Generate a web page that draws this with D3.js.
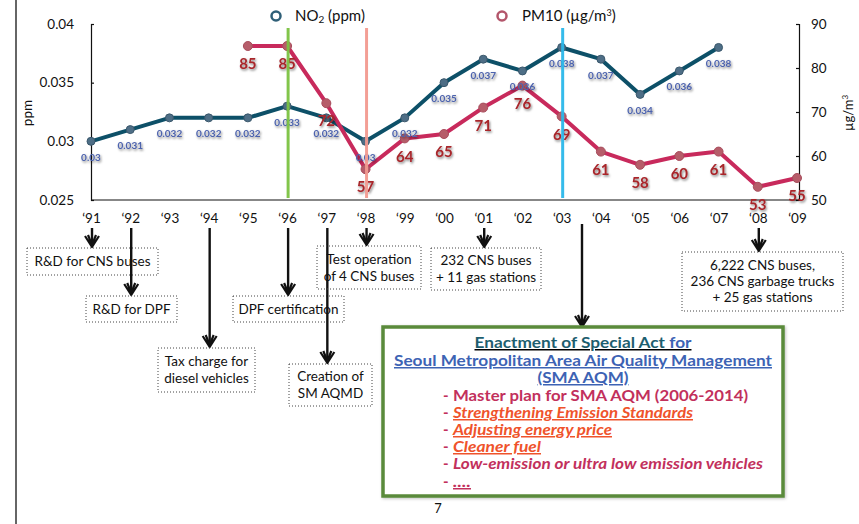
<!DOCTYPE html>
<html>
<head>
<meta charset="utf-8">
<script src="https://cdn.jsdelivr.net/npm/d3@7"></script>
<style>
  html, body { margin: 0; padding: 0; background: #fff; }
  svg { display: block; font-family: Lato, "Open Sans", sans-serif; }
</style>
</head>
<body>
<svg id="chart" width="859" height="524"></svg>
<script>
// Years on the shared x axis
const years = ["‘91","‘92","‘93","‘94","‘95","‘96","‘97","‘98","‘99","‘00","‘01","‘02","‘03","‘04","‘05","‘06","‘07","‘08","‘09"];
// Annual mean NO2 (ppm), left axis
const no2 = [0.03,0.031,0.032,0.032,0.032,0.033,0.032,0.03,0.032,0.035,0.037,0.036,0.038,0.037,0.034,0.036,0.038,null,null];
// Annual mean PM10 (µg/m³), right axis
const pm10 = [null,null,null,null,85,85,72,57,64,65,71,76,69,61,58,60,61,53,55];
const leftTicks = [0.025,0.03,0.035,0.04];
const rightTicks = [50,60,70,80,90];
// Years marked by a vertical highlight line
const markerYears = [
  {year:"‘96", color:"#7cc242"},
  {year:"‘98", color:"#f39a90"},
  {year:"‘03", color:"#2bb8ea"}
];
// Policy milestones hanging from the year axis
const milestones = [
  {year:"‘91", lines:["R&D for CNS buses"], box:[27,248,158,275]},
  {year:"‘92", lines:["R&D for DPF"], box:[86,296,177,322]},
  {year:"‘94", lines:["Tax charge for","diesel vehicles"], box:[158,348,255,392]},
  {year:"‘96", lines:["DPF certification"], box:[233,296,344,322]},
  {year:"‘97", lines:["Creation of","SM AQMD"], box:[289,364,372,406]},
  {year:"‘98", lines:["Test operation","of 4 CNS buses"], box:[317,246,421,289]},
  {year:"‘01", lines:["232 CNS buses","+ 11 gas stations"], box:[431,248,541,290]},
  {year:"‘08", lines:["6,222 CNS buses,","236 CNS garbage trucks","+ 25 gas stations"], box:[682,252,843,311]}
];

const svg = d3.select("#chart");
const defs = svg.append("defs");
const sh = defs.append("filter").attr("id","shadow").attr("x","-30%").attr("y","-30%").attr("width","160%").attr("height","160%");
sh.append("feDropShadow").attr("dx",1).attr("dy",1.5).attr("stdDeviation",1).attr("flood-color","#000").attr("flood-opacity",0.5);
const bs = defs.append("filter").attr("id","boxshadow").attr("x","-5%").attr("y","-5%").attr("width","110%").attr("height","110%");
bs.append("feDropShadow").attr("dx",1).attr("dy",1).attr("stdDeviation",1.5).attr("flood-color","#000").attr("flood-opacity",0.25);

const x = d3.scalePoint().domain(years).range([91, 797]);
const yL = d3.scaleLinear().domain([0.025, 0.04]).range([200, 24]);
const yR = d3.scaleLinear().domain([50, 90]).range([200, 24]);

// page edge rule
svg.append("line").attr("x1",16).attr("x2",16).attr("y1",0).attr("y2",524)
  .attr("stroke","#333").attr("stroke-width",1.5);

// axes
const axL = svg.append("g").attr("transform","translate(91,0)")
  .call(d3.axisLeft(yL).tickValues(leftTicks).tickFormat(d3.format("")).tickSize(-3).tickPadding(17));
const axR = svg.append("g").attr("transform","translate(799,0)")
  .call(d3.axisRight(yR).tickValues(rightTicks).tickSize(-3).tickPadding(12));
const axB = svg.append("g").attr("transform","translate(0,200)")
  .call(d3.axisBottom(x).tickSize(0).tickPadding(13));
axB.select(".domain").attr("d","M91,0H799");
[axL, axR, axB].forEach(a => {
  a.selectAll("text").attr("font-size",13.5).attr("fill","#111").attr("font-family","Lato, sans-serif");
  a.selectAll("path,line").attr("stroke","#111").attr("stroke-width",1.2);
});

// axis titles
svg.append("text").attr("transform","translate(32,113) rotate(-90)").attr("text-anchor","middle")
  .attr("font-size",13.5).attr("fill","#111").text("ppm");
svg.append("text").attr("transform","translate(853,113) rotate(-90)").attr("text-anchor","middle")
  .attr("font-size",13).attr("fill","#111")
  .call(t => { t.append("tspan").text("µg/m"); t.append("tspan").attr("font-size",8).attr("dy",-5).text("3"); });

// legend
const leg = svg.append("g");
leg.append("circle").attr("cx",276).attr("cy",16).attr("r",4.5).attr("fill","#fff").attr("stroke","#2f5f77").attr("stroke-width",2.5);
leg.append("text").attr("x",295).attr("y",21).attr("font-size",15).attr("fill","#111")
  .call(t => { t.append("tspan").text("NO"); t.append("tspan").attr("font-size",10).attr("dy",2).text("2"); t.append("tspan").attr("dy",-2).text(" (ppm)"); });
leg.append("circle").attr("cx",502).attr("cy",16).attr("r",4.5).attr("fill","#fff").attr("stroke","#b3566b").attr("stroke-width",2.5);
leg.append("text").attr("x",522).attr("y",21).attr("font-size",15).attr("fill","#111")
  .call(t => { t.append("tspan").text("PM10 (µg/m"); t.append("tspan").attr("font-size",9).attr("dy",-5).text("3"); t.append("tspan").attr("dy",5).text(")"); });

// series
const no2Pts = years.map((y,i)=>({y, v:no2[i]})).filter(d=>d.v!=null);
const pmPts = years.map((y,i)=>({y, v:pm10[i]})).filter(d=>d.v!=null);

svg.append("path").datum(no2Pts)
  .attr("d", d3.line().x(d=>x(d.y)).y(d=>yL(d.v)))
  .attr("fill","none").attr("stroke","#0d5068").attr("stroke-width",4).attr("stroke-linejoin","round");
svg.append("path").datum(pmPts)
  .attr("d", d3.line().x(d=>x(d.y)).y(d=>yR(d.v)))
  .attr("fill","none").attr("stroke","#c82a5c").attr("stroke-width",4).attr("stroke-linejoin","round");

svg.append("g").selectAll("circle").data(no2Pts).join("circle")
  .attr("cx",d=>x(d.y)).attr("cy",d=>yL(d.v)).attr("r",4)
  .attr("fill","#4e6e86").attr("stroke","#3b586c").attr("stroke-width",1);
svg.append("g").selectAll("circle").data(pmPts).join("circle")
  .attr("cx",d=>x(d.y)).attr("cy",d=>yR(d.v)).attr("r",4.5)
  .attr("fill","#b65d6a").attr("stroke","#a84d5c").attr("stroke-width",1);

// value labels
svg.append("g").attr("filter","url(#shadow)").selectAll("text").data(no2Pts).join("text")
  .attr("x",d=>x(d.y)).attr("y",d=>yL(d.v)+16).attr("dy","0.35em").attr("text-anchor","middle")
  .attr("font-size",10).attr("font-weight","bold").attr("fill","#4d63ad")
  .text(d=>String(d.v));
svg.append("g").attr("filter","url(#shadow)").selectAll("text").data(pmPts).join("text")
  .attr("x",d=>x(d.y)).attr("y",d=>yR(d.v)+18).attr("dy","0.35em").attr("text-anchor","middle")
  .attr("font-size",15).attr("font-weight","bold").attr("fill","#a8262b")
  .text(d=>d.v);

// highlight lines for milestone years
svg.append("g").selectAll("line").data(markerYears).join("line")
  .attr("x1",d=>x(d.year)+1).attr("x2",d=>x(d.year)+1).attr("y1",28).attr("y2",198)
  .attr("stroke",d=>d.color).attr("stroke-width",3).attr("opacity",0.95);

// hand-drawn style down arrow
function arrow(g, xx, y1, y2) {
  g.append("line").attr("x1",xx).attr("x2",xx).attr("y1",y1).attr("y2",y2-2)
    .attr("stroke","#111").attr("stroke-width",2.4);
  g.append("path").attr("d",`M${xx-7},${y2-11}L${xx},${y2}L${xx+7},${y2-11}M${xx-4},${y2-12}L${xx},${y2-2}L${xx+4},${y2-12}`)
    .attr("fill","none").attr("stroke","#111").attr("stroke-width",2.2).attr("stroke-linejoin","round");
}

const ann = svg.append("g");
milestones.forEach(m => {
  const [x0,y0,x1,y1] = m.box;
  arrow(ann, x(m.year)+1, 228, y0-1);
  ann.append("rect").attr("x",x0).attr("y",y0).attr("width",x1-x0).attr("height",y1-y0)
    .attr("fill","none").attr("stroke","#444").attr("stroke-width",1).attr("stroke-dasharray","1,2");
  const lh = m.lines.length === 3 ? 16 : 17;
  const cy = (y0+y1)/2 - (m.lines.length-1)*lh/2;
  m.lines.forEach((ln,i) => {
    ann.append("text").attr("x",(x0+x1)/2).attr("y",cy+i*lh).attr("dy","0.35em")
      .attr("text-anchor","middle").attr("font-size",13.5).attr("fill","#111").text(ln);
  });
});

// Special Act box
const boxX0 = 383, boxY0 = 327, boxX1 = 783, boxY1 = 496;
const bx = svg.append("g");
arrow(bx, 582, 224, boxY0);
bx.append("rect").attr("x",boxX0).attr("y",boxY0).attr("width",boxX1-boxX0).attr("height",boxY1-boxY0)
  .attr("fill","#fff").attr("stroke","#5a8a3a").attr("stroke-width",3.5).attr("filter","url(#boxshadow)");
const cx = (boxX0+boxX1)/2;
const h1 = bx.append("text").attr("x",cx).attr("y",348).attr("text-anchor","middle")
  .attr("font-size",15).attr("font-weight","bold").attr("text-decoration","underline")
  .attr("textLength",217).attr("lengthAdjust","spacingAndGlyphs");
h1.append("tspan").attr("fill","#1d5e6f").text("Enactment of Special Act");
h1.append("tspan").attr("fill","#3d63b4").text(" for");
bx.append("text").attr("x",cx).attr("y",366).attr("text-anchor","middle")
  .attr("font-size",15).attr("font-weight","bold").attr("text-decoration","underline").attr("fill","#3d63b4")
  .attr("textLength",378).attr("lengthAdjust","spacingAndGlyphs")
  .text("Seoul Metropolitan Area Air Quality Management");
bx.append("text").attr("x",cx).attr("y",383).attr("text-anchor","middle")
  .attr("font-size",15).attr("font-weight","bold").attr("text-decoration","underline").attr("fill","#3d63b4")
  .attr("textLength",91).attr("lengthAdjust","spacingAndGlyphs")
  .text("(SMA AQM)");

const items = [
  {t:"Master plan for SMA AQM (2006-2014)", c:"#c2305c", it:false, ul:false, w:295},
  {t:"Strengthening Emission Standards", c:"#ef532b", it:true, ul:true, w:240},
  {t:"Adjusting energy price", c:"#ef532b", it:true, ul:true, w:159},
  {t:"Cleaner fuel", c:"#ef532b", it:true, ul:true, w:88},
  {t:"Low-emission or ultra low emission vehicles", c:"#c2305c", it:true, ul:false, w:310},
  {t:"....", c:"#c2305c", it:true, ul:true, w:18}
];
const ys = [401, 418, 435, 452, 469, 487];
items.forEach((d,i) => {
  bx.append("text").attr("x",443).attr("y",ys[i]).attr("font-size",15).attr("font-weight","bold")
    .attr("fill","#c2305c").text("-");
  bx.append("text").attr("x",453).attr("y",ys[i]).attr("font-size",15).attr("font-weight","bold")
    .attr("font-style",d.it?"italic":"normal").attr("text-decoration",d.ul?"underline":"none")
    .attr("textLength",d.w).attr("lengthAdjust","spacingAndGlyphs")
    .attr("fill",d.c).text(d.t);
});

// page number
svg.append("text").attr("x",438).attr("y",513).attr("text-anchor","middle").attr("font-size",13).attr("fill","#111").text("7");
</script>
</body>
</html>
